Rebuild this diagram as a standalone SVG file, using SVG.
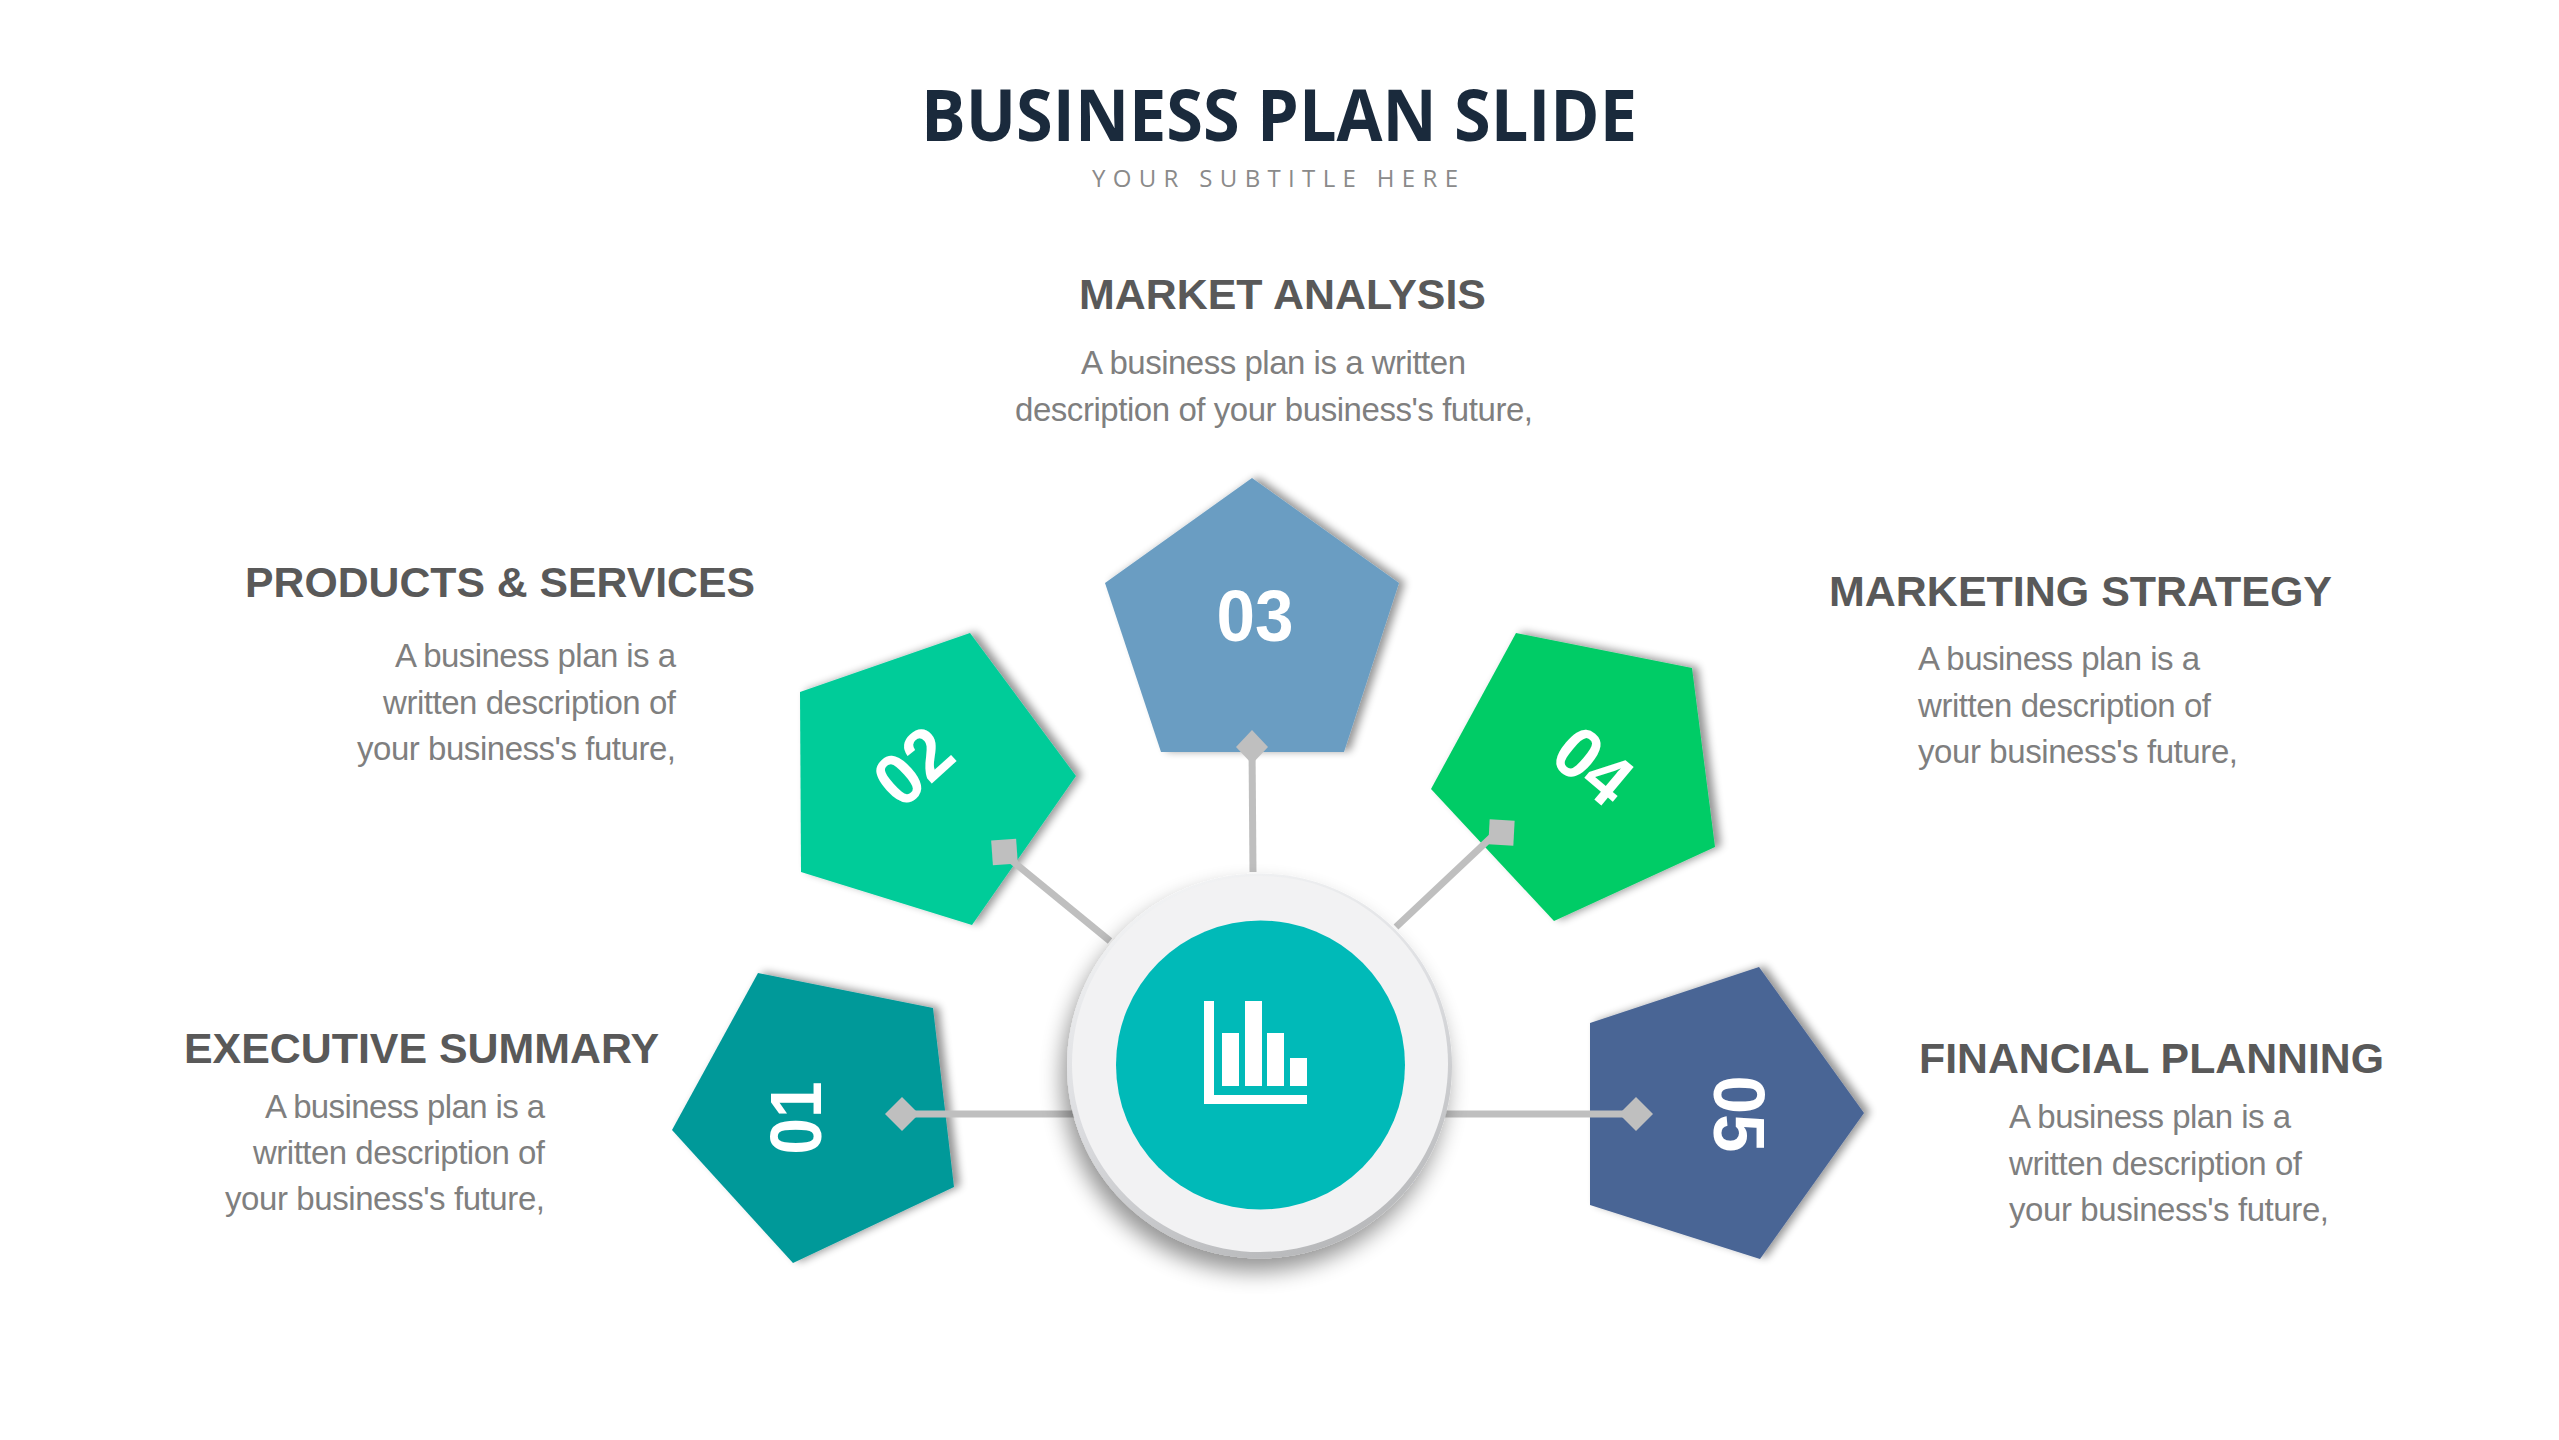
<svg xmlns="http://www.w3.org/2000/svg" width="2559" height="1440" viewBox="0 0 2559 1440">
<style>
.t{font-family:"Liberation Sans",Arial,sans-serif;font-weight:700;font-size:42px;fill:#595959}
.b{font-family:"Liberation Sans",Arial,sans-serif;font-size:33px;fill:#7f7f7f}
.n{font-family:"Liberation Sans",Arial,sans-serif;font-weight:700;font-size:73px;fill:#fff;text-anchor:middle}
.l{stroke:#bfbfbf;stroke-width:7;fill:none}
.m{fill:#bfbfbf}
</style>
<defs>
<filter id="s" x="-20%" y="-20%" width="140%" height="140%"><feGaussianBlur in="SourceAlpha" stdDeviation="4"/><feOffset dx="6" dy="-1"/><feComponentTransfer><feFuncA type="linear" slope="0.42"/></feComponentTransfer><feMerge><feMergeNode/><feMergeNode in="SourceGraphic"/></feMerge></filter>
<filter id="cs" x="-20%" y="-20%" width="140%" height="140%"><feGaussianBlur in="SourceAlpha" stdDeviation="11"/><feOffset dx="-5" dy="13"/><feComponentTransfer><feFuncA type="linear" slope="0.42"/></feComponentTransfer><feMerge><feMergeNode/><feMergeNode in="SourceGraphic"/></feMerge></filter>
<linearGradient id="rim" x1="0.2" y1="0" x2="0.6" y2="1"><stop offset="0" stop-color="#f4f5f6"/><stop offset="0.5" stop-color="#dcdde0"/><stop offset="1" stop-color="#b8b9bb"/></linearGradient>
</defs>
<rect width="2559" height="1440" fill="#fff"/>
<g id="header">
<text x="921" y="141" font-family="Open Sans" font-weight="700" font-size="71" fill="#1a2a3c" textLength="716" lengthAdjust="spacingAndGlyphs">BUSINESS PLAN SLIDE</text>
<text x="1092" y="187" font-family="Open Sans" font-size="24" fill="#8a8a8a" textLength="366">YOUR SUBTITLE HERE</text>
</g>
<g id="node-03">
<polygon points="1252,478 1399,583 1344,752 1161,752 1105,583" fill="#6a9dc2" filter="url(#s)"/>
<text class="n" transform="translate(1255,641)" textLength="77" lengthAdjust="spacingAndGlyphs">03</text>
<text class="t" x="1079" y="309" textLength="407" lengthAdjust="spacingAndGlyphs">MARKET ANALYSIS</text>
<text class="b" x="1081" y="374" textLength="385">A business plan is a written</text>
<text class="b" x="1015" y="421" textLength="518">description of your business's future,</text>
</g>
<g id="node-02">
<polygon points="970,633 1076,776 972,925 801,872 800,692" fill="#00cc99" filter="url(#s)"/>
<text class="n" transform="translate(930,785) rotate(-42)" textLength="77" lengthAdjust="spacingAndGlyphs">02</text>
<text class="t" x="245" y="597" textLength="510" lengthAdjust="spacingAndGlyphs">PRODUCTS &amp; SERVICES</text>
<text class="b" x="395" y="667" textLength="281">A business plan is a</text>
<text class="b" x="383" y="714" textLength="293">written description of</text>
<text class="b" x="357" y="760" textLength="319">your business's future,</text>
</g>
<g id="node-04">
<polygon points="1516,633 1692,668 1715,847 1554,921 1431,789" fill="#00cc66" filter="url(#s)"/>
<text class="n" transform="translate(1577,785) rotate(40)" textLength="77" lengthAdjust="spacingAndGlyphs">04</text>
<text class="t" x="1829" y="606" textLength="503" lengthAdjust="spacingAndGlyphs">MARKETING STRATEGY</text>
<text class="b" x="1918" y="670" textLength="282">A business plan is a</text>
<text class="b" x="1918" y="717" textLength="293">written description of</text>
<text class="b" x="1918" y="763" textLength="320">your business's future,</text>
</g>
<g id="node-01">
<polygon points="758,973 933,1008 954,1187 793,1263 672,1130" fill="#009999" filter="url(#s)"/>
<text class="n" transform="translate(821,1118) rotate(-90)" textLength="73" lengthAdjust="spacingAndGlyphs">01</text>
<text class="t" x="184" y="1063" textLength="475" lengthAdjust="spacingAndGlyphs">EXECUTIVE SUMMARY</text>
<text class="b" x="265" y="1118" textLength="280">A business plan is a</text>
<text class="b" x="253" y="1164" textLength="292">written description of</text>
<text class="b" x="225" y="1210" textLength="320">your business's future,</text>
</g>
<g id="node-05">
<polygon points="1759,967 1864,1113 1760,1259 1590,1205 1590,1023" fill="#4a6595" filter="url(#s)"/>
<text class="n" transform="translate(1714,1114) rotate(90)" textLength="77" lengthAdjust="spacingAndGlyphs">05</text>
<text class="t" x="1919" y="1073" textLength="465" lengthAdjust="spacingAndGlyphs">FINANCIAL PLANNING</text>
<text class="b" x="2009" y="1128" textLength="282">A business plan is a</text>
<text class="b" x="2009" y="1175" textLength="293">written description of</text>
<text class="b" x="2009" y="1221" textLength="320">your business's future,</text>
</g>
<g id="connectors">
<line class="l" x1="902" y1="1114" x2="1075" y2="1114"/>
<line class="l" x1="1445" y1="1114" x2="1636" y2="1114"/>
<line class="l" x1="1252" y1="747" x2="1253" y2="872"/>
<line class="l" x1="1005" y1="855" x2="1110" y2="941"/>
<line class="l" x1="1498" y1="831" x2="1396" y2="927"/>
<polygon class="m" points="885,1114 902,1097 919,1114 902,1131"/>
<polygon class="m" points="1619,1114 1636,1097 1653,1114 1636,1131"/>
<polygon class="m" points="1236,747 1252,730 1268,747 1252,764"/>
<rect class="m" x="992" y="839.5" width="25" height="25" transform="rotate(-4 1004.5 852)"/>
<rect class="m" x="1489" y="820" width="25" height="25" transform="rotate(3 1501.5 832.5)"/>
</g>
<g id="hub">
<circle cx="1259.5" cy="1066" r="192.5" fill="url(#rim)" filter="url(#cs)"/>
<circle cx="1260" cy="1064" r="188" fill="#f2f2f3"/>
<circle cx="1260.5" cy="1065" r="144.5" fill="#00bab8"/>
<path d="M1204 1001h10v94h93v9h-103zM1222 1033h17v53h-17zM1245 1001h17v85h-17zM1267 1033h17v53h-17zM1290 1058h17v28h-17z" fill="#fff"/>
</g>
</svg>
